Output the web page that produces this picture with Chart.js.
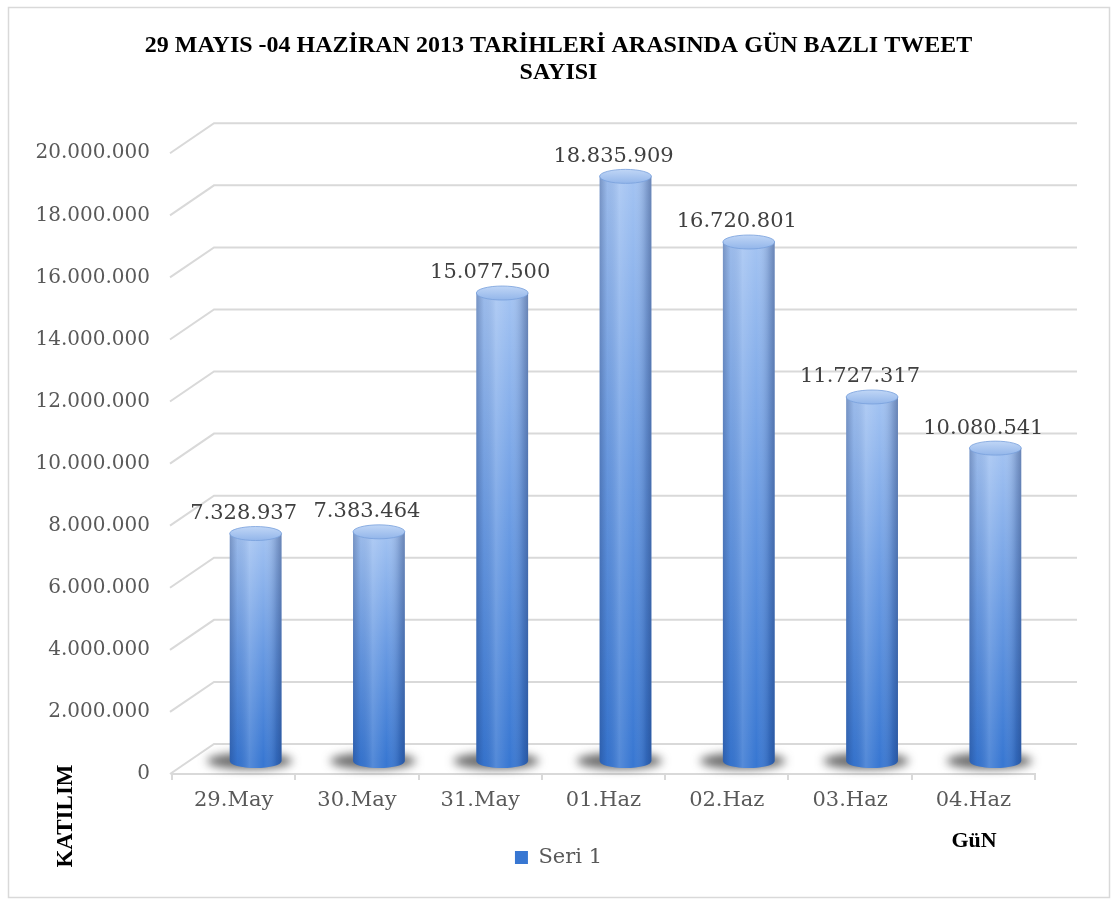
<!DOCTYPE html>
<html>
<head>
<meta charset="utf-8">
<script src="https://cdn.jsdelivr.net/npm/chart.js@4/dist/chart.umd.min.js"></script>
<style>
  body { margin: 0; background: #fff; }
  canvas { display: block; }
</style>
</head>
<body>
<canvas id="tweetChart" width="1117" height="900"></canvas>
<script>
// chart data
const days = ['29.May', '30.May', '31.May', '01.Haz', '02.Haz', '03.Haz', '04.Haz'];
const tweetCounts = [7328937, 7383464, 15077500, 18835909, 16720801, 11727317, 10080541];
const seriesName = 'Seri 1';
const titleLines = ['29 MAYIS -04 HAZİRAN 2013 TARİHLERİ ARASINDA GÜN BAZLI TWEET', 'SAYISI'];
const yAxisTitle = 'KATILIM';
const xAxisTitle = 'GüN';

// depth offsets for the fake 3d look
const DEPTH_X = 42, DEPTH_Y = -30;
const BAR_X = 22, BAR_Y = -13;

function dotted(v) {
    return String(Math.round(v)).replace(/\B(?=(\d{3})+(?!\d))/g, '.');
}

function barFill(c) {
    const chart = c.chart;
    if (c.type !== 'data' || !chart.chartArea || !chart.scales.y) return '#4f88da';
    const ya = chart.scales.y;
    const top = ya.getPixelForValue(c.raw);
    const g = chart.ctx.createLinearGradient(0, top, 0, ya.getPixelForValue(0));
    g.addColorStop(0, '#a3c3f2');
    g.addColorStop(0.5, '#6a9be3');
    g.addColorStop(1, '#3877d2');
    return g;
}

const wall3d = {
    id: 'wall3d',
    beforeDraw(chart) {
        const ctx = chart.ctx;
        ctx.save();
        ctx.fillStyle = '#fff';
        ctx.fillRect(0, 0, chart.width, chart.height);
        ctx.strokeStyle = '#d9d9d9';
        ctx.lineWidth = 1.5;
        ctx.strokeRect(8.5, 7.5, 1101, 890);
        ctx.restore();
    },
    beforeDatasetsDraw(chart) {
        const ctx = chart.ctx;
        const ya = chart.scales.y;
        const area = chart.chartArea;
        ctx.save();
        ctx.strokeStyle = '#d9d9d9';
        ctx.lineWidth = 2;
        ya.ticks.forEach(t => {
            const y = ya.getPixelForValue(t.value);
            ctx.beginPath();
            ctx.moveTo(area.left - 2, y);
            ctx.lineTo(area.left + DEPTH_X, y + DEPTH_Y);
            ctx.lineTo(area.right + DEPTH_X, y + DEPTH_Y);
            ctx.stroke();
        });
        // floor shadows under the cylinders
        const meta = chart.getDatasetMeta(0);
        meta.data.forEach(bar => {
            const x = bar.x + BAR_X, b = bar.base + BAR_Y;
            ctx.save();
            ctx.filter = 'blur(5px)';
            ctx.fillStyle = 'rgba(70,70,70,0.8)';
            ctx.beginPath();
            ctx.ellipse(x - 6, b, bar.width / 2 + 17, 8, 0, 0, Math.PI * 2);
            ctx.fill();
            ctx.restore();
        });
        ctx.restore();
        // bars sit halfway into the depth
        ctx.save();
        ctx.translate(BAR_X, BAR_Y);
    },
    afterDatasetsDraw(chart) {
        const ctx = chart.ctx;
        const meta = chart.getDatasetMeta(0);
        meta.data.forEach(bar => {
            const x = bar.x, w = bar.width, top = bar.y, base = bar.base;
            const l = x - w / 2, r = x + w / 2;
            // rounded bottom
            ctx.fillStyle = '#3877d2';
            ctx.beginPath();
            ctx.ellipse(x, base, w / 2, 7, 0, 0, Math.PI);
            ctx.fill();
            // side shading
            const h = ctx.createLinearGradient(l, 0, r, 0);
            h.addColorStop(0, 'rgba(20,40,90,0.30)');
            h.addColorStop(0.15, 'rgba(20,40,90,0.05)');
            h.addColorStop(0.38, 'rgba(255,255,255,0.15)');
            h.addColorStop(0.65, 'rgba(255,255,255,0)');
            h.addColorStop(0.9, 'rgba(20,40,90,0.22)');
            h.addColorStop(1, 'rgba(20,40,90,0.40)');
            ctx.fillStyle = h;
            ctx.beginPath();
            ctx.moveTo(l, top);
            ctx.lineTo(l, base);
            ctx.ellipse(x, base, w / 2, 7, 0, Math.PI, 0, true);
            ctx.lineTo(r, top);
            ctx.closePath();
            ctx.fill();
            // top cap
            const cg = ctx.createLinearGradient(0, top - 7, 0, top + 7);
            cg.addColorStop(0, '#c0d6f6');
            cg.addColorStop(1, '#93b6ea');
            ctx.fillStyle = cg;
            ctx.beginPath();
            ctx.ellipse(x, top, w / 2, 7, 0, 0, Math.PI * 2);
            ctx.fill();
            ctx.strokeStyle = 'rgba(120,160,220,0.8)';
            ctx.lineWidth = 1;
            ctx.stroke();
        });
        ctx.restore();
        // value labels
        ctx.save();
        ctx.font = '21px "DejaVu Serif"';
        ctx.fillStyle = '#404040';
        ctx.textAlign = 'center';
        ctx.textBaseline = 'middle';
        meta.data.forEach((bar, i) => {
            ctx.fillText(dotted(tweetCounts[i]), bar.x + 10, bar.y + BAR_Y - 20);
        });
        ctx.restore();
    },
    afterDraw(chart) {
        const ctx = chart.ctx;
        ctx.save();
        ctx.fillStyle = '#000';
        ctx.font = 'bold 22px "Liberation Serif"';
        ctx.textAlign = 'center';
        ctx.textBaseline = 'middle';
        ctx.fillText(xAxisTitle, 974, 841);
        ctx.font = 'bold 23px "Liberation Serif"';
        ctx.translate(66, 816);
        ctx.rotate(-Math.PI / 2);
        ctx.fillText(yAxisTitle, 0, 0);
        ctx.restore();
    }
};

new Chart(document.getElementById('tweetChart'), {
    type: 'bar',
    data: {
        labels: days,
        datasets: [{
            label: seriesName,
            data: tweetCounts,
            backgroundColor: barFill,
            borderWidth: 0,
            categoryPercentage: 1,
            barPercentage: 0.42
        }]
    },
    options: {
        responsive: false,
        animation: false,
        devicePixelRatio: 1,
        layout: { padding: { left: 10, right: 10, top: 0, bottom: 22 } },
        plugins: {
            title: {
                display: true,
                text: titleLines,
                color: '#000',
                font: { family: 'Liberation Serif', size: 24, weight: 'bold', lineHeight: 1.13 },
                padding: { top: 32, bottom: 67 }
            },
            legend: {
                position: 'bottom',
                labels: {
                    color: '#595959',
                    font: { family: 'DejaVu Serif', size: 21 },
                    boxWidth: 13,
                    boxHeight: 13,
                    padding: 8
                }
            },
            tooltip: { enabled: false }
        },
        scales: {
            x: {
                grid: { display: true, drawOnChartArea: false, color: '#d9d9d9', lineWidth: 2, tickLength: 6, offset: true },
                border: { display: true, color: '#d9d9d9', width: 2 },
                ticks: { color: '#595959', font: { family: 'DejaVu Serif', size: 21 }, padding: 8 },
                afterFit(scale) { scale.height = 65; }
            },
            y: {
                min: 0,
                max: 20000000,
                ticks: {
                    stepSize: 2000000,
                    color: '#595959',
                    font: { family: 'DejaVu Serif', size: 20 },
                    padding: 14,
                    callback: v => dotted(v)
                },
                grid: { display: false },
                border: { display: false },
                afterFit(scale) { scale.width = 162; }
            },
            // empty right axis keeps room for the back wall depth
            depth: {
                type: 'linear',
                position: 'right',
                ticks: { display: false },
                grid: { display: false },
                border: { display: false },
                afterFit(scale) { scale.width = 72; }
            }
        }
    },
    plugins: [wall3d]
});
</script>
</body>
</html>
